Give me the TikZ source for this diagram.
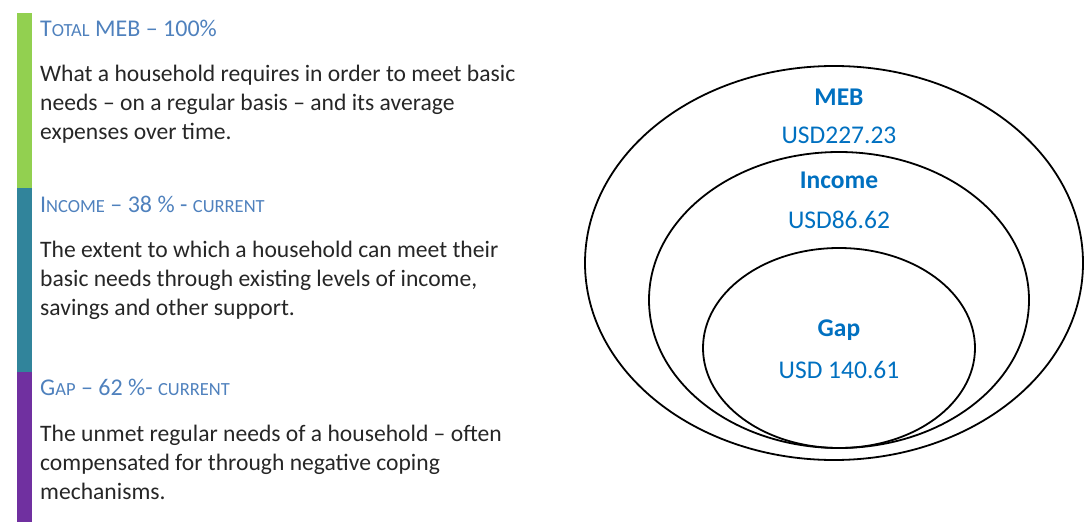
\documentclass[tikz,border=0pt]{standalone}
\usepackage{fontspec}
\setmainfont{Carlito}
\definecolor{mebgreen}{HTML}{92D050}
\definecolor{incteal}{HTML}{31849B}
\definecolor{gappurple}{HTML}{7030A0}
\definecolor{headblue}{HTML}{4F81BD}
\definecolor{valblue}{HTML}{0070C0}
\definecolor{bodytext}{HTML}{262626}
% upper-case initial followed by smaller capitals
\newcommand\capinit[1]{{\fontsize{24}{24}\selectfont #1}}
\newcommand\capsmall[1]{{\fontsize{18.5}{18.5}\selectfont #1}}
\tikzset{
  x=1pt, y=-1pt,
  heading/.style={anchor=base west, inner sep=0pt, text=headblue, font=\fontsize{24}{24}\selectfont},
  bodypara/.style={anchor=north west, inner sep=0pt, align=left, text=bodytext, font=\fontsize{23.6}{29}\selectfont},
  ring/.style={draw=black, line width=1.8pt},
  ringname/.style={text=valblue, font=\fontsize{25.5}{25.5}\selectfont\bfseries, inner sep=0pt},
  ringvalue/.style={text=valblue, font=\fontsize{25.5}{25.5}\selectfont, inner sep=0pt}
}
\begin{document}
\begin{tikzpicture}
\useasboundingbox (0,0) rectangle (1085,522);
% coloured side bars
\fill[mebgreen] (17,13) rectangle (32,188);
\fill[incteal] (17,188) rectangle (32,372);
\fill[gappurple] (17,372) rectangle (32,522);
% text blocks
\node[heading] (h1) at (40,36) {\capinit{T}\capsmall{OTAL} MEB -- 100\%};
\node[bodypara] (b1) at (40,65) {What a household requires in order to meet basic\\needs -- on a regular basis -- and its average\\expenses over time.};
\node[heading] (h2) at (40,212) {\capinit{I}\capsmall{NCOME} -- 38 \% - \capsmall{CURRENT}};
\node[bodypara] (b2) at (40,241) {The extent to which a household can meet their\\basic needs through existing levels of income,\\savings and other support.};
\node[heading] (h3) at (40,395) {\capinit{G}\capsmall{AP} -- 62 \%- \capsmall{CURRENT}};
\node[bodypara] (b3) at (40,425) {The unmet regular needs of a household -- often\\compensated for through negative coping\\mechanisms.};
% nested ellipses
\draw[ring] (834,263) ellipse [x radius=249, y radius=197];
\draw[ring] (839,300) ellipse [x radius=190, y radius=148];
\draw[ring] (839,348) ellipse [x radius=136, y radius=100];
% ellipse labels
\node[ringname] (meb) at (839,97) {MEB};
\node[ringvalue] (mebv) at (839,135) {USD227.23};
\node[ringname] (inc) at (839,180) {Income};
\node[ringvalue] (incv) at (839,220) {USD86.62};
\node[ringname] (gap) at (839,330) {Gap};
\node[ringvalue] (gapv) at (839,370) {USD 140.61};
\end{tikzpicture}
\end{document}
